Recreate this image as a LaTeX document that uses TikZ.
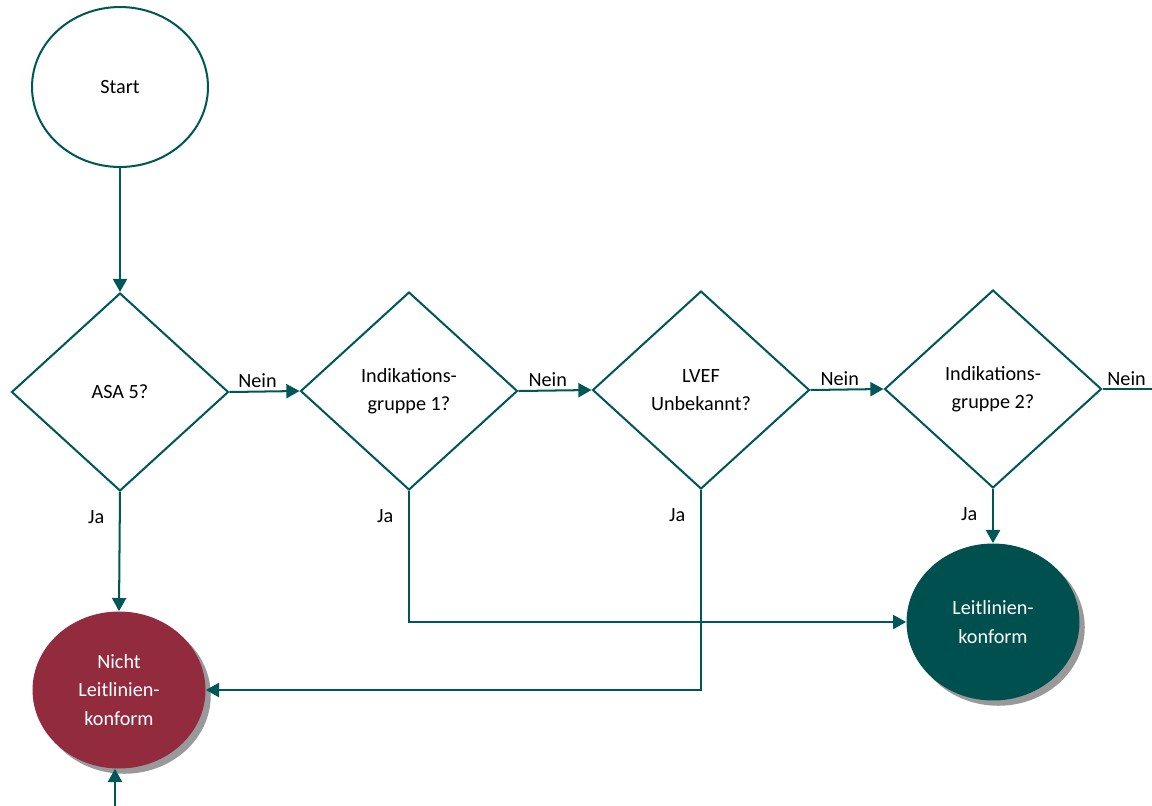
\documentclass[tikz,border=0pt]{standalone}
\usepackage{fontspec}
\setmainfont{Carlito}
\usetikzlibrary{shapes.geometric,arrows.meta,shadows}
\definecolor{flowteal}{RGB}{0,87,87}
\definecolor{leitfill}{RGB}{0,80,80}
\definecolor{nichtfill}{RGB}{146,43,62}
\tikzset{
    txt/.style={font=\fontsize{11.5}{16.2}\selectfont, align=center},
    frage/.style={txt, shape=diamond, draw=flowteal, line width=1.15pt, minimum width=4.34cm, minimum height=3.96cm, inner sep=0pt},
    ende/.style={txt, shape=ellipse, text=white, minimum width=3.46cm, minimum height=3.14cm,
        drop shadow={shadow xshift=3pt, shadow yshift=-3pt, fill=black!40, opacity=1}},
    pfeil/.style={draw=flowteal, line width=1.15pt, -{Triangle[length=7.5pt,width=8pt]}},
    linie/.style={draw=flowteal, line width=1.15pt},
    nein/.style={txt, above, inner sep=1.5pt},
    ja/.style={txt, anchor=east, xshift=-5pt, yshift=-14pt}
}
\begin{document}
\begin{tikzpicture}[x=0.02cm, y=-0.02cm]
        \useasboundingbox (0,0) rectangle (1152,805);
        \node[txt, shape=ellipse, draw=flowteal, line width=1.15pt, minimum width=3.52cm, minimum height=3.2cm] (start) at (120, 87) {Start};
        \node[frage] (D1) at (120, 392) {ASA 5?};
        \node[frage] (D2) at (409, 391) {Indikations-\\gruppe 1?};
        \node[frage] (D3) at (701, 390) {LVEF\\Unbekannt?};
        \node[frage] (D4) at (993, 389) {Indikations-\\gruppe 2?};
        \node[ende, fill=nichtfill] (nicht) at (119, 690) {Nicht\\Leitlinien-\\konform};
        \node[ende, fill=leitfill] (leit) at (993, 622) {Leitlinien-\\konform};
        \coordinate (weiter) at (1156, 389);
        \coordinate (unten) at (115, 810);
        \draw[pfeil] (start) to (D1);
        \draw[pfeil] (D1.east) to node[nein, pos=0.4] {Nein} (D2.west);
        \draw[pfeil] (D2.east) to node[nein, pos=0.4] {Nein} (D3.west);
        \draw[pfeil] (D3.east) to node[nein, pos=0.4] {Nein} (D4.west);
        \draw[linie] (D4.east) to node[nein, pos=0.45] {Nein} (weiter);
        \draw[pfeil] (D1.south) node[ja] {Ja} to (nicht.north);
        \draw[pfeil] (D2.south) node[ja] {Ja} |- (leit.west);
        \draw[pfeil] (D3.south) node[ja] {Ja} |- (nicht.east);
        \draw[pfeil] (D4.south) node[ja] {Ja} to (leit.north);
        \draw[pfeil] (unten) to (unten |- nicht.south);
    \end{tikzpicture}
\end{document}
